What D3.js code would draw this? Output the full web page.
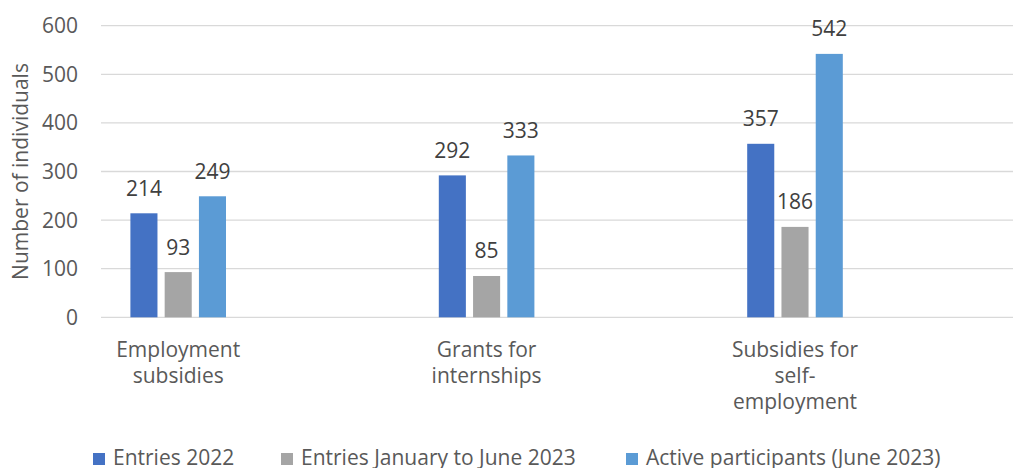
<!DOCTYPE html>
<html>
<head>
<meta charset="utf-8">
<script src="https://cdn.jsdelivr.net/npm/d3@7"></script>
<style>
  html, body { margin: 0; padding: 0; background: #fff; }
  svg { display: block; font-family: "Open Sans", "Noto Sans", sans-serif; }
</style>
</head>
<body>
<svg id="chart" width="1013" height="468"></svg>
<script>
// Programme categories, with the wrapped lines used for their axis labels
const categories = ["Employment subsidies", "Grants for internships", "Subsidies for self-employment"];
const categoryLines = [["Employment", "subsidies"], ["Grants for", "internships"], ["Subsidies for", "self-", "employment"]];

// Series and their values per category
const seriesNames = ["Entries 2022", "Entries January to June 2023", "Active participants (June 2023)"];
const entries2022 = [214, 292, 357];
const entriesJanJun2023 = [93, 85, 186];
const activeJune2023 = [249, 333, 542];
const seriesValues = [entries2022, entriesJanJun2023, activeJune2023];
const seriesColors = ["#4472C4", "#A5A5A5", "#5B9BD5"];

const yTicks = [0, 100, 200, 300, 400, 500, 600];
const yTitle = "Number of individuals";

const fontSize = 21;
const svg = d3.select("#chart");

const plotLeft = 101, plotRight = 1013;
const y = d3.scaleLinear().domain([0, 600]).range([317.3, 25.7]);

const x0 = d3.scaleBand().domain(categories).range([24, 949.2]).padding(0);
const x1 = d3.scaleBand().domain(seriesNames).range([-47.8, 47.8]).paddingInner(0.21).paddingOuter(0);

// Horizontal gridlines
svg.append("g")
  .selectAll("line")
  .data(yTicks)
  .join("line")
  .attr("x1", plotLeft)
  .attr("x2", plotRight)
  .attr("y1", d => y(d))
  .attr("y2", d => y(d))
  .attr("stroke", "#d9d9d9")
  .attr("stroke-width", 1.3);

// Y tick labels
svg.append("g")
  .selectAll("text")
  .data(yTicks)
  .join("text")
  .attr("x", 78)
  .attr("y", d => y(d))
  .attr("dy", "0.36em")
  .attr("text-anchor", "end")
  .attr("font-size", fontSize)
  .attr("fill", "#595959")
  .text(d => d);

// Y axis title
svg.append("text")
  .attr("transform", `translate(27.5, ${(y(0) + y(600)) / 2}) rotate(-90)`)
  .attr("text-anchor", "middle")
  .attr("font-size", fontSize)
  .attr("fill", "#595959")
  .text(yTitle);

// Bars and value labels
const groups = svg.append("g")
  .selectAll("g")
  .data(categories)
  .join("g")
  .attr("transform", d => `translate(${x0(d) + x0.bandwidth() / 2},0)`);

groups.selectAll("rect")
  .data((c, ci) => seriesNames.map((s, si) => ({ s, si, v: seriesValues[si][ci] })))
  .join("rect")
  .attr("x", d => x1(d.s))
  .attr("width", x1.bandwidth())
  .attr("y", d => y(d.v))
  .attr("height", d => y(0) - y(d.v))
  .attr("fill", d => seriesColors[d.si]);

groups.selectAll("text.value")
  .data((c, ci) => seriesNames.map((s, si) => ({ s, si, v: seriesValues[si][ci] })))
  .join("text")
  .attr("class", "value")
  .attr("x", d => x1(d.s) + x1.bandwidth() / 2)
  .attr("y", d => y(d.v) - 17.5)
  .attr("text-anchor", "middle")
  .attr("font-size", fontSize)
  .attr("fill", "#404040")
  .text(d => d.v);

// Category labels
groups.append("text")
  .attr("text-anchor", "middle")
  .attr("font-size", fontSize)
  .attr("fill", "#595959")
  .selectAll("tspan")
  .data((c, ci) => categoryLines[ci])
  .join("tspan")
  .attr("x", 0)
  .attr("y", (d, i) => 357 + i * 26)
  .text(d => d);

// Legend
const legendX = [93, 281, 626];
const legend = svg.append("g")
  .selectAll("g")
  .data(seriesNames)
  .join("g")
  .attr("transform", (d, i) => `translate(${legendX[i]},0)`);

legend.append("rect")
  .attr("x", 0)
  .attr("y", 453)
  .attr("width", 12)
  .attr("height", 12)
  .attr("fill", (d, i) => seriesColors[i]);

legend.append("text")
  .attr("x", 20)
  .attr("y", 465)
  .attr("font-size", fontSize)
  .attr("fill", "#595959")
  .text(d => d);
</script>
</body>
</html>
